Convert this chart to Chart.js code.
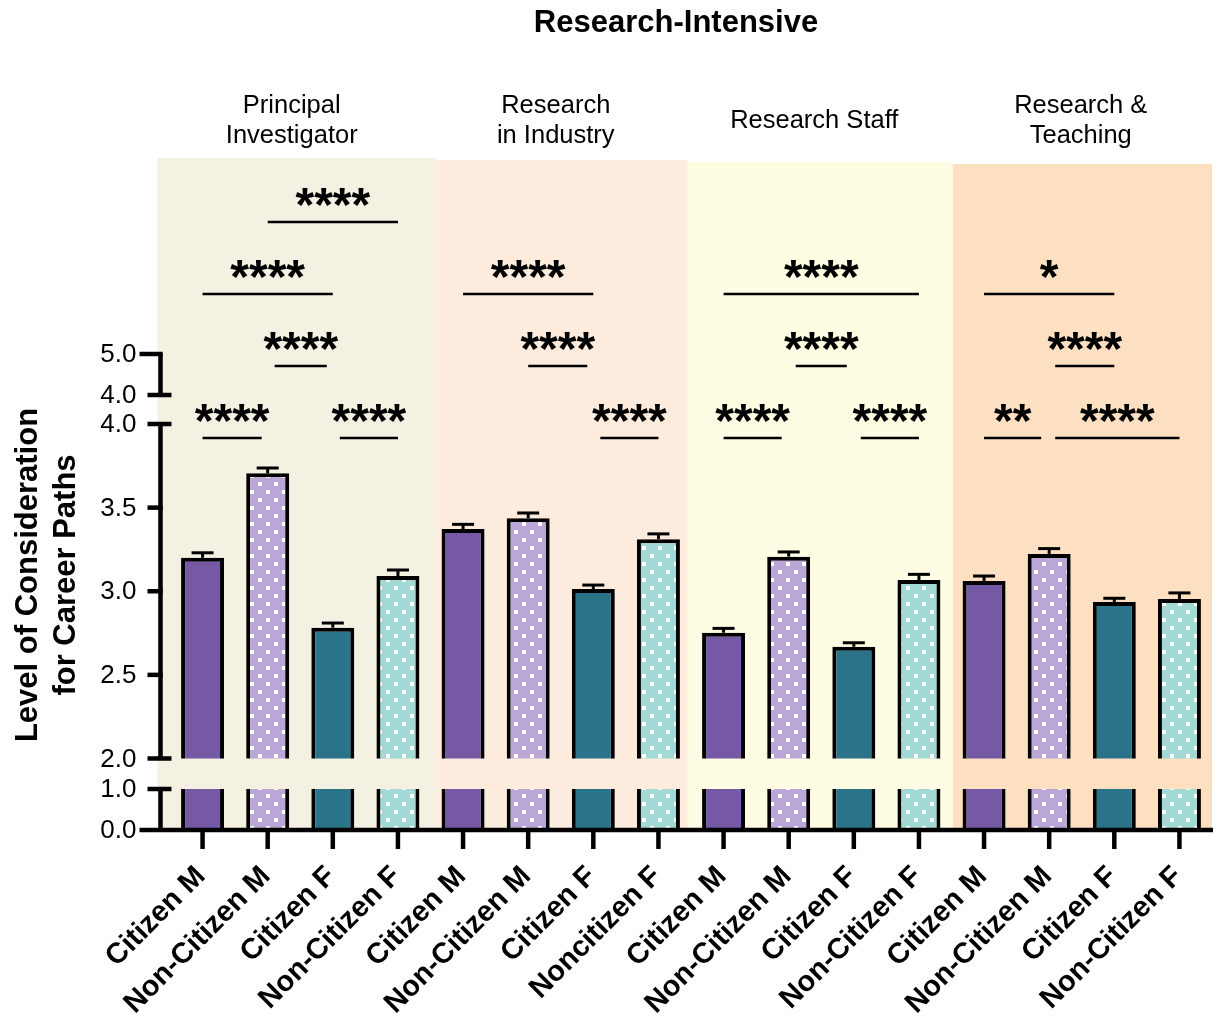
<!DOCTYPE html>
<html>
<head>
<meta charset="utf-8">
<title>Research-Intensive</title>
<script src="https://cdn.jsdelivr.net/npm/chart.js@4.4.1/dist/chart.umd.min.js"></script>
<style>
  html, body { margin: 0; padding: 0; background: #ffffff; }
  canvas { display: block; }
</style>
</head>
<body>
<canvas id="chart" width="1227" height="1016"></canvas>
<script>
// ---- data ---------------------------------------------------------------
const chartTitle = 'Research-Intensive';
const yTitle = ['Level of Consideration', 'for Career Paths'];

const groupNames = [
  ['Principal', 'Investigator'],
  ['Research', 'in Industry'],
  ['Research Staff'],
  ['Research &', 'Teaching']
];

const categories = [
  'Citizen M', 'Non-Citizen M', 'Citizen F', 'Non-Citizen F',
  'Citizen M', 'Non-Citizen M', 'Citizen F', 'Noncitizen F',
  'Citizen M', 'Non-Citizen M', 'Citizen F', 'Non-Citizen F',
  'Citizen M', 'Non-Citizen M', 'Citizen F', 'Non-Citizen F'
];

// mean level of consideration per bar
const means = [
  3.200, 3.705, 2.782, 3.091,
  3.372, 3.436, 3.013, 3.311,
  2.752, 3.207, 2.668, 3.067,
  3.061, 3.223, 2.936, 2.954
];

// standard error per bar
const sem = [
  0.030, 0.032, 0.028, 0.036,
  0.028, 0.032, 0.024, 0.032,
  0.026, 0.028, 0.024, 0.034,
  0.030, 0.032, 0.022, 0.036
];

// tick labels of the three axis segments
const lowerTicks = [0, 1];
const middleTicks = [2, 2.5, 3, 3.5, 4];
const upperTicks = [4, 5];

// pairwise significance: bar indices, stars, stacking row
const comparisons = [
  { a: 0,  b: 1,  stars: '****', row: 0 },
  { a: 2,  b: 3,  stars: '****', row: 0 },
  { a: 1,  b: 2,  stars: '****', row: 1 },
  { a: 0,  b: 2,  stars: '****', row: 2 },
  { a: 1,  b: 3,  stars: '****', row: 3 },
  { a: 6,  b: 7,  stars: '****', row: 0 },
  { a: 5,  b: 6,  stars: '****', row: 1 },
  { a: 4,  b: 6,  stars: '****', row: 2 },
  { a: 8,  b: 9,  stars: '****', row: 0 },
  { a: 10, b: 11, stars: '****', row: 0 },
  { a: 9,  b: 10, stars: '****', row: 1 },
  { a: 8,  b: 11, stars: '****', row: 2 },
  { a: 12, b: 13, stars: '**',   row: 0 },
  { a: 13, b: 15, stars: '****', row: 0 },
  { a: 13, b: 14, stars: '****', row: 1 },
  { a: 12, b: 14, stars: '*',    row: 2 }
];

// ---- layout & style -----------------------------------------------------
const FONT = '"Liberation Sans", Arial, Helvetica, sans-serif';
const seriesColors = ['#7559a5', '#baa7d7', '#2b7388', '#a3d9d4'];
const dotted = [false, true, false, true];
const bandColors = ['#f4f0e2', '#fdebde', '#fefce2', '#fde0c1'];
const bandEdges = [-0.19, 4.08, 7.95, 12.02, 16];   // in category widths
const bandTops = [158, 160, 162, 164];
const headingShift = [-8.5, -5, -7, -1];
// end trims (px) of each significance line, same order as comparisons
const lineTrims = [
  [0, 6], [7, 0], [7, 6], [0, 0], [0, 0],
  [7, 0], [0, 6], [0, 0],
  [0, 7], [7, 0], [7, 7], [0, 0],
  [0, 8], [6, 0], [6, 0], [0, 0]
];

// ---- broken value axis --------------------------------------------------
// 0–1 and 2–4 are drawn to different scales with a gap between them.
const segValues = [0, 1, 2, 4];
const segLengths = [41, 30.5, 334.5];
const segTotal = segLengths.reduce((s, v) => s + v, 0);
const segDecimals = [0];
segLengths.forEach((len, i) => segDecimals.push(segDecimals[i] + len / segTotal));

function valueToDecimal(v) {
  for (let i = 0; i < segValues.length - 1; i++) {
    if (v <= segValues[i + 1] || i === segValues.length - 2) {
      const t = (v - segValues[i]) / (segValues[i + 1] - segValues[i]);
      return segDecimals[i] + t * (segDecimals[i + 1] - segDecimals[i]);
    }
  }
  return 0;
}
function decimalToValue(d) {
  for (let i = 0; i < segDecimals.length - 1; i++) {
    if (d <= segDecimals[i + 1] || i === segDecimals.length - 2) {
      const t = (d - segDecimals[i]) / (segDecimals[i + 1] - segDecimals[i]);
      return segValues[i] + t * (segValues[i + 1] - segValues[i]);
    }
  }
  return 0;
}

class BrokenLinearScale extends Chart.LinearScale {
  getPixelForValue(value) {
    return this.getPixelForDecimal(valueToDecimal(value));
  }
  getValueForPixel(pixel) {
    return decimalToValue(this.getDecimalForPixel(pixel));
  }
}
BrokenLinearScale.id = 'brokenLinear';
BrokenLinearScale.defaults = Chart.LinearScale.defaults;
Chart.register(BrokenLinearScale);

// ---- fills --------------------------------------------------------------
const canvas = document.getElementById('chart');
const ctx = canvas.getContext('2d');

function dotPattern(color) {
  const tile = document.createElement('canvas');
  tile.width = 16; tile.height = 16;
  const g = tile.getContext('2d');
  g.fillStyle = color;
  g.fillRect(0, 0, 16, 16);
  g.fillStyle = '#ffffff';
  g.fillRect(2, 2, 4, 4);
  g.fillRect(10, 10, 4, 4);
  return ctx.createPattern(tile, 'repeat');
}
const seriesFills = seriesColors.map((c, i) => dotted[i] ? dotPattern(c) : c);
const barFills = categories.map((_, i) => seriesFills[i % 4]);

// ---- drawing helpers ----------------------------------------------------
const AXIS_W = 4.5;

function line(c, x1, y1, x2, y2, w) {
  c.beginPath();
  c.lineWidth = w;
  c.moveTo(x1, y1);
  c.lineTo(x2, y2);
  c.stroke();
}

// background bands behind each career group
const bandsPlugin = {
  id: 'bands',
  beforeDraw(chart) {
    const c = chart.ctx, a = chart.chartArea;
    c.save();
    c.fillStyle = '#ffffff';
    c.fillRect(0, 0, chart.width, chart.height);
    const cw = a.width / categories.length;
    for (let g = 0; g < 4; g++) {
      const x1 = a.left + bandEdges[g] * cw;
      const x2 = a.left + bandEdges[g + 1] * cw;
      c.fillStyle = bandColors[g];
      c.fillRect(x1, bandTops[g], x2 - x1, a.bottom - bandTops[g]);
    }
    c.restore();
  }
};

// hide the bars inside the axis break
const breakClipPlugin = {
  id: 'breakClip',
  beforeDatasetsDraw(chart) {
    const c = chart.ctx, y = chart.scales.y;
    const gLow = y.getPixelForValue(segValues[1]);
    const gHigh = y.getPixelForValue(segValues[2]);
    c.save();
    c.beginPath();
    c.rect(0, gLow, chart.width, chart.height - gLow);
    c.rect(0, 0, chart.width, gHigh);
    c.clip();
  },
  afterDatasetsDraw(chart) {
    chart.ctx.restore();
  }
};

const errorBarPlugin = {
  id: 'errorBars',
  afterDatasetsDraw(chart) {
    const c = chart.ctx, y = chart.scales.y;
    const meta = chart.getDatasetMeta(0);
    c.save();
    c.strokeStyle = '#000';
    meta.data.forEach((bar, i) => {
      const yTop = y.getPixelForValue(means[i] + sem[i]);
      line(c, bar.x, bar.y, bar.x, yTop, 3);
      line(c, bar.x - 11, yTop, bar.x + 11, yTop, 3);
    });
    c.restore();
  }
};

const axesPlugin = {
  id: 'brokenAxes',
  afterDraw(chart) {
    const c = chart.ctx, a = chart.chartArea;
    const y = chart.scales.y, x = chart.scales.x;
    const ax = a.left - 9.5;
    c.save();
    c.strokeStyle = '#000';
    c.fillStyle = '#000';
    c.lineCap = 'butt';

    // x axis
    line(c, ax - 21, a.bottom, a.right + 1, a.bottom, AXIS_W);
    categories.forEach((_, i) => {
      const px = x.getPixelForValue(i);
      line(c, px, a.bottom, px, a.bottom + 19, AXIS_W);
    });

    // lower segment
    const p0 = y.getPixelForValue(0), p1 = y.getPixelForValue(1);
    line(c, ax, p0, ax, p1, AXIS_W);
    line(c, ax - 13, p1, ax + 11, p1, AXIS_W);

    // middle segment
    const p2 = y.getPixelForValue(2), p4 = y.getPixelForValue(4);
    line(c, ax, p2, ax, p4, AXIS_W);
    line(c, ax - 13, p2, ax + 11, p2, AXIS_W);
    line(c, ax - 13, p4, ax + 11, p4, AXIS_W);
    middleTicks.forEach(v => {
      if (v > 2 && v < 4) {
        const py = y.getPixelForValue(v);
        line(c, ax - 13, py, ax + AXIS_W / 2, py, AXIS_W);
      }
    });

    // upper segment (sits above the plotted range)
    const upper = v => a.top - 29 - (v - 4) * 41;
    line(c, ax, upper(4), ax, upper(5), AXIS_W);
    line(c, ax - 13, upper(4), ax + 11, upper(4), AXIS_W);
    line(c, ax - 21, upper(5), ax + AXIS_W / 2, upper(5), AXIS_W);

    // tick labels
    c.font = '26px ' + FONT;
    c.textAlign = 'right';
    c.textBaseline = 'middle';
    const lx = ax - 24;
    lowerTicks.forEach(v => c.fillText(v.toFixed(1), lx, y.getPixelForValue(v) + 1));
    middleTicks.forEach(v => c.fillText(v.toFixed(1), lx, y.getPixelForValue(v) + 1));
    upperTicks.forEach(v => c.fillText(v.toFixed(1), lx, upper(v) + 1));

    // category labels, rotated
    c.font = 'bold 29px ' + FONT;
    c.textAlign = 'right';
    c.textBaseline = 'alphabetic';
    categories.forEach((label, i) => {
      const px = x.getPixelForValue(i);
      c.save();
      c.translate(px + 4, a.bottom + 47.5);
      c.rotate(-Math.PI / 4);
      c.fillText(label, 0, 0);
      c.restore();
    });

    // axis title
    c.font = 'bold 31px ' + FONT;
    c.textAlign = 'center';
    c.textBaseline = 'middle';
    c.save();
    c.translate(28, 575);
    c.rotate(-Math.PI / 2);
    c.fillText(yTitle[0], 0, 0);
    c.fillText(yTitle[1], 0, 38);
    c.restore();

    // chart title
    c.font = 'bold 31px ' + FONT;
    c.fillText(chartTitle, 676, 23);

    // group headings
    c.font = '25.5px ' + FONT;
    groupNames.forEach((lines, g) => {
      const cx = (x.getPixelForValue(g * 4) + x.getPixelForValue(g * 4 + 3)) / 2 + headingShift[g];
      const baseY = lines.length === 1 ? 121 : 106;
      lines.forEach((t, k) => c.fillText(t, cx, baseY + k * 30));
    });

    // significance lines and stars
    comparisons.forEach((cmp, k) => {
      const xa = x.getPixelForValue(cmp.a) + lineTrims[k][0];
      const xb = x.getPixelForValue(cmp.b) - lineTrims[k][1];
      const ly = a.top + 14 - cmp.row * 72;
      line(c, xa, ly, xb, ly, 2.5);
      c.font = 'bold 48px ' + FONT;
      c.textAlign = 'center';
      c.textBaseline = 'alphabetic';
      const m = c.measureText(cmp.stars);
      const glyphCenter = ly - 25;
      const base = glyphCenter + (m.actualBoundingBoxAscent - m.actualBoundingBoxDescent) / 2;
      c.fillText(cmp.stars, (xa + xb) / 2, base);
    });

    c.restore();
  }
};

new Chart(ctx, {
  type: 'bar',
  data: {
    labels: categories,
    datasets: [{
      data: means,
      backgroundColor: barFills,
      borderColor: '#000000',
      borderWidth: 4,
      borderSkipped: 'start',
      barPercentage: 0.66,
      categoryPercentage: 1
    }]
  },
  options: {
    responsive: false,
    animation: false,
    devicePixelRatio: 1,
    layout: { padding: { left: 170, right: 15, top: 424, bottom: 186 } },
    plugins: { legend: { display: false }, tooltip: { enabled: false } },
    scales: {
      x: { display: false, offset: true, grid: { display: false } },
      y: { type: 'brokenLinear', display: false, min: 0, max: 4 }
    }
  },
  plugins: [bandsPlugin, breakClipPlugin, errorBarPlugin, axesPlugin]
});
</script>
</body>
</html>
